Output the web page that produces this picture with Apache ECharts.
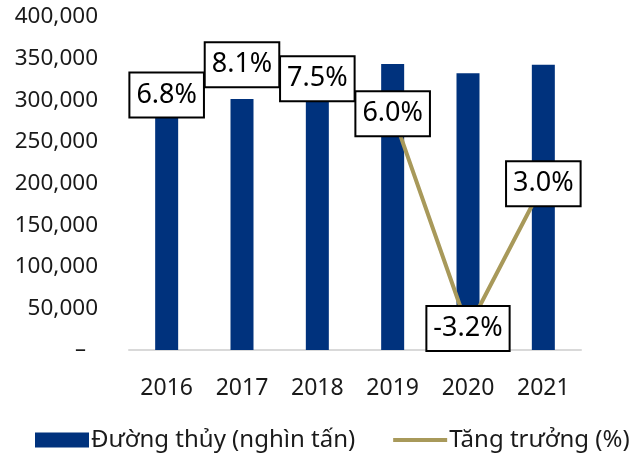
<!DOCTYPE html>
<html>
<head>
<meta charset="utf-8">
<script src="https://cdn.jsdelivr.net/npm/echarts@6/dist/echarts.min.js"></script>
<style>
    html, body { margin: 0; padding: 0; background: #fff; }
    #chart { width: 629px; height: 462px; }
</style>
</head>
<body>
<div id="chart"></div>
<script>
// số liệu
var years = ['2016', '2017', '2018', '2019', '2020', '2021'];
var duongThuy = [279000, 301500, 324000, 343500, 332500, 342500]; // nghìn tấn
var tangTruong = [6.8, 8.1, 7.5, 6.0, -3.2, 3.0]; // %
var yTicks = [0, 50000, 100000, 150000, 200000, 250000, 300000, 350000, 400000];

var fontName = '"Noto Sans", "DejaVu Sans", sans-serif';
var myChart = echarts.init(document.getElementById('chart'));

var option = {
    animation: false,
    textStyle: { fontFamily: fontName },
    grid: {
        left: 129,
        right: 48,
        top: 17,
        bottom: 112
    },
    legend: {
        left: 30,
        bottom: 5,
        width: 700,
        itemGap: 38,
        itemWidth: 54,
        itemHeight: 15,
        textStyle: {
            fontSize: 24,
            color: '#1a1a1a',
            fontFamily: fontName,
            padding: [0, 0, 0, -3]
        },
        data: [
            { name: 'Đường thủy (nghìn tấn)', icon: 'rect' },
            { name: 'Tăng trưởng (%)', icon: 'path://M0,0H55V4H0Z' }
        ]
    },
    xAxis: {
        type: 'category',
        data: years,
        axisLine: { lineStyle: { color: '#d9d9d9', width: 2 } },
        axisTick: { show: false },
        axisLabel: {
            margin: 27,
            fontSize: 23,
            color: '#1a1a1a'
        }
    },
    yAxis: [
        {
            type: 'value',
            min: yTicks[0],
            max: yTicks[yTicks.length - 1],
            interval: 50000,
            splitLine: { show: false },
            axisLine: { show: false },
            axisTick: { show: false },
            axisLabel: {
                margin: 31,
                fontSize: 22.5,
                color: '#1a1a1a',
                formatter: function (v) {
                    if (v === 0) return '{z|–}';
                    return v.toLocaleString('en-US');
                },
                rich: {
                    z: { fontSize: 22, color: '#1a1a1a', padding: [0, 12, 0, 0] }
                }
            }
        },
        {
            type: 'value',
            min: -4.12,
            max: 10.14,
            show: false,
            splitLine: { show: false }
        }
    ],
    series: [
        {
            name: 'Đường thủy (nghìn tấn)',
            type: 'bar',
            data: duongThuy,
            barWidth: 23,
            itemStyle: { color: '#00327d' }
        },
        {
            name: 'Tăng trưởng (%)',
            type: 'line',
            yAxisIndex: 1,
            data: tangTruong,
            symbol: 'circle',
            symbolSize: 2,
            showSymbol: true,
            lineStyle: { color: '#a8995a', width: 4 },
            itemStyle: { color: '#a8995a' },
            z: 5,
            label: {
                show: true,
                position: 'inside',
                formatter: function (p) { return p.value.toFixed(1) + '%'; },
                fontSize: 27,
                color: '#000',
                backgroundColor: '#fff',
                borderColor: '#000',
                borderWidth: 2,
                padding: [8, 6, 8, 6]
            }
        }
    ]
};

myChart.setOption(option);
</script>
</body>
</html>
